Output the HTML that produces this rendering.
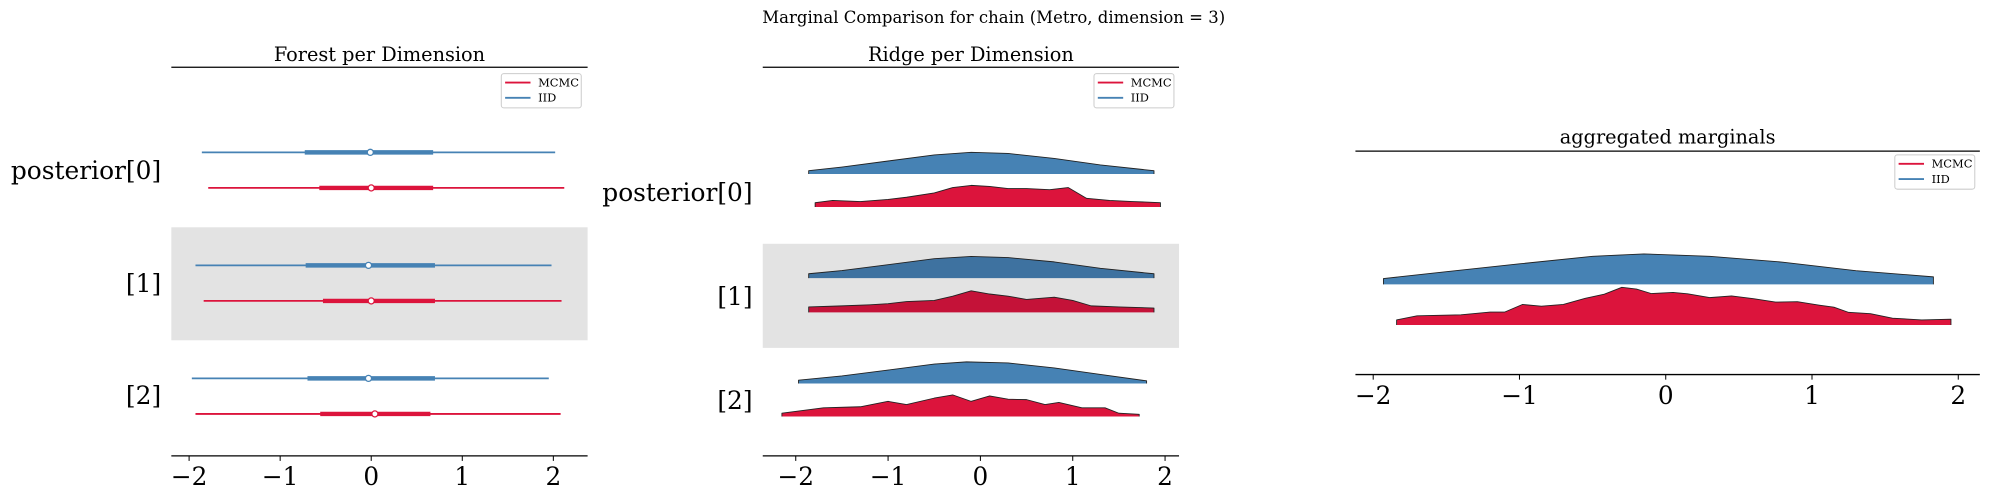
<!DOCTYPE html>
<html><head><meta charset="utf-8"><style>
html,body{margin:0;padding:0;background:#fff;}
svg{display:block;font-family:"DejaVu Serif","Liberation Serif",serif;}
</style></head><body>
<svg id="fig" width="1990" height="499" viewBox="0 0 1568 393" preserveAspectRatio="none" xmlns="http://www.w3.org/2000/svg">
<text x="783" y="18" font-size="13" text-anchor="middle">Marginal Comparison for chain (Metro, dimension = 3)</text>
</svg>
<script>
// ---------- data ----------
const ticks = [-2, -1, 0, 1, 2];
const rowLabels = ["posterior[0]", "[1]", "[2]"];
// forest: [min, hdiLow, median, hdiHigh, max]
const forestIID = [[-1.86,-0.73,-0.01,0.68,2.02],[-1.93,-0.72,-0.03,0.70,1.98],[-1.97,-0.70,-0.03,0.70,1.95]];
const forestMCMC = [[-1.79,-0.57,0.00,0.68,2.12],[-1.84,-0.53,0.00,0.70,2.09],[-1.93,-0.56,0.04,0.65,2.08]];
// ridge densities (relative heights)
const ridgeIIDx = [[-1.86,-1.5,-1,-0.5,-0.1,0.3,0.8,1.3,1.88],[-1.86,-1.5,-1,-0.5,-0.1,0.3,0.8,1.3,1.88],[-1.97,-1.5,-1,-0.5,-0.15,0.3,0.8,1.3,1.8]];
const ridgeIIDy = [[0.15,0.32,0.6,0.88,1,0.95,0.72,0.42,0.15],[0.2,0.35,0.62,0.9,1,0.95,0.75,0.45,0.2],[0.15,0.35,0.62,0.9,1,0.95,0.72,0.42,0.12]];
const ridgeMCMCx = [
 [-1.79,-1.6,-1.3,-1,-0.8,-0.5,-0.3,-0.1,0.1,0.3,0.5,0.75,0.95,1.15,1.4,1.65,1.95],
 [-1.86,-1.5,-1.2,-1,-0.8,-0.5,-0.3,-0.1,0.1,0.3,0.5,0.8,1.0,1.2,1.5,1.88],
 [-2.15,-1.7,-1.3,-1.0,-0.8,-0.5,-0.3,-0.1,0.1,0.3,0.5,0.7,0.85,1.1,1.35,1.5,1.72]];
const ridgeMCMCy = [
 [0.2,0.3,0.25,0.35,0.45,0.65,0.9,1.0,0.95,0.85,0.85,0.8,0.9,0.4,0.3,0.25,0.2],
 [0.25,0.3,0.35,0.4,0.5,0.55,0.75,1.0,0.85,0.75,0.6,0.7,0.55,0.3,0.25,0.2],
 [0.15,0.4,0.45,0.7,0.55,0.85,1.0,0.7,0.95,0.8,0.78,0.55,0.65,0.4,0.4,0.15,0.1]];
// aggregated marginals
const aggIIDx = [-1.93,-1.5,-1,-0.5,-0.15,0.3,0.8,1.3,1.83];
const aggIIDy = [17,37,60,82,89,82,65,40,22];
const aggMCMCx = [-1.84,-1.7,-1.4,-1.2,-1.1,-0.98,-0.85,-0.7,-0.55,-0.42,-0.3,-0.2,-0.1,0.05,0.15,0.3,0.45,0.6,0.75,0.9,1.05,1.15,1.25,1.4,1.55,1.75,1.95];
const aggMCMCy = [15,27,30,38,38,60,55,60,78,90,110,105,92,95,91,80,85,77,67,68,58,52,37,33,20,15,17];

const BLUE="#4682b4", RED="#dc143c", BLUE_D="#3e72a0", RED_D="#c41238";
const svg=document.getElementById('fig');
const NS="http://www.w3.org/2000/svg";
function mk(tag,attrs,parent){const e=document.createElementNS(NS,tag);for(const k in attrs)e.setAttribute(k,attrs[k]);(parent||svg).appendChild(e);return e;}
function lin(d0,d1,r0,r1){return v=>r0+(v-d0)*(r1-r0)/(d1-d0);}

function axes(x0,x1,top,bottom,sx,title,tyTitle,name){
  const g=mk('g',{});
  
  
  const t=mk('text',{x:(x0+x1)/2,y:tyTitle,'font-size':15.2,'text-anchor':'middle'},g);t.textContent=title;
  
  
  const ts=mk('line',{x1:x0,x2:x1,y1:top,y2:top,stroke:'#000','stroke-width':1},g);
  
  
  const bs=mk('line',{x1:x0,x2:x1,y1:bottom,y2:bottom,stroke:'#000','stroke-width':1},g);
  
  
  ticks.forEach(v=>{
    const x=sx(v);
    const tk=mk('line',{x1:x,x2:x,y1:bottom,y2:bottom+4,stroke:'#000','stroke-width':0.8},g);
    
    
    const lb=mk('text',{x:x,y:bottom+23,'font-size':19.5,'text-anchor':'middle'},g);
    lb.textContent=(v<0?'\u2212':'')+Math.abs(v);
    
    
  });
  return g;
}
function legend(x,y){
  const g=mk('g',{});
  
  
  mk('rect',{x:x,y:y,width:63,height:27,rx:2,fill:'#fff',stroke:'#ccc','stroke-width':0.8},g);
  [[RED,'MCMC',7],[BLUE,'IID',19]].forEach(([c,l,dy])=>{
    const ln=mk('line',{x1:x+3,x2:x+23,y1:y+dy,y2:y+dy,stroke:c,'stroke-width':1.5},g);
    
    
    const tx=mk('text',{x:x+29,y:y+dy+3,'font-size':9},g);tx.textContent=l;
    
    
  });
}
function ylabel(x,y,txt){
  const t=mk('text',{x:x,y:y,'font-size':19.6,'text-anchor':'end','dominant-baseline':'middle'});
  t.textContent=txt;
  
  
}
function ridge(g,sx,xs,ys,base,amp,color){
  let d='M'+sx(xs[0])+','+base;
  let top='';
  xs.forEach((v,i)=>{const p=sx(v)+','+(base-ys[i]*amp);d+=' L'+p;top+=(i?' L':'M')+p;});
  d+=' L'+sx(xs[xs.length-1])+','+base+' Z';
  const a=mk('path',{d:d,fill:color,stroke:'none'},g);
  
  
  const l=mk('path',{d:'M'+sx(xs[0])+','+base+' L'+top.slice(1)+' L'+sx(xs[xs.length-1])+','+base,fill:'none',stroke:'#222','stroke-width':0.7,'stroke-linejoin':'round'},g);
  
  
}

// ---------- panel 1: forest ----------
const sx1=lin(-2,2,149,436);
const b1=mk('rect',{x:135,y:179,width:328,height:89,fill:'#e3e3e3'});


axes(135,463,53,359,sx1,'Forest per Dimension',48,'forest-panel');
const rowY1=[[120,148],[209,237],[298,326]];
rowLabels.forEach((l,i)=>ylabel(127,[136,225,313][i],l));
function forest(f,y,c){
  const g=mk('g',{});
  
  
  mk('line',{x1:sx1(f[0]),x2:sx1(f[4]),y1:y,y2:y,stroke:c,'stroke-width':1.4},g);
  mk('line',{x1:sx1(f[1]),x2:sx1(f[3]),y1:y,y2:y,stroke:c,'stroke-width':3.5},g);
  mk('circle',{cx:sx1(f[2]),cy:y,r:2.4,fill:'#fff',stroke:c,'stroke-width':1},g);
}
forestIID.forEach((f,i)=>forest(f,rowY1[i][0],BLUE));
forestMCMC.forEach((f,i)=>forest(f,rowY1[i][1],RED));
legend(395,58);

// ---------- panel 2: ridge ----------
const sx2=lin(-2,2,627,918);
const b2=mk('rect',{x:601,y:192,width:328,height:82,fill:'#e3e3e3'});


axes(601,929,53,359,sx2,'Ridge per Dimension',48,'ridge-panel');
rowLabels.forEach((l,i)=>ylabel(593,[153,235,317][i],l));
const rowY2=[[137,163],[219,246],[302,328]];
const g2=mk('g',{});


rowY2.forEach((r,i)=>{
  ridge(g2,sx2,ridgeIIDx[i],ridgeIIDy[i],r[0],17,i===1?BLUE_D:BLUE);
  ridge(g2,sx2,ridgeMCMCx[i],ridgeMCMCy[i],r[1],17,i===1?RED_D:RED);
});
legend(862,58);

// ---------- panel 3: aggregated ----------
const sx3=lin(-2,2,1082,1543);
axes(1068,1560,119,295,sx3,'aggregated marginals',113,'aggregated-panel');
const g3=mk('g',{});


ridge(g3,sx3,aggIIDx,aggIIDy,224,0.27,BLUE);
ridge(g3,sx3,aggMCMCx,aggMCMCy,256,0.27,RED);
legend(1493,122);
</script>
</body></html>
